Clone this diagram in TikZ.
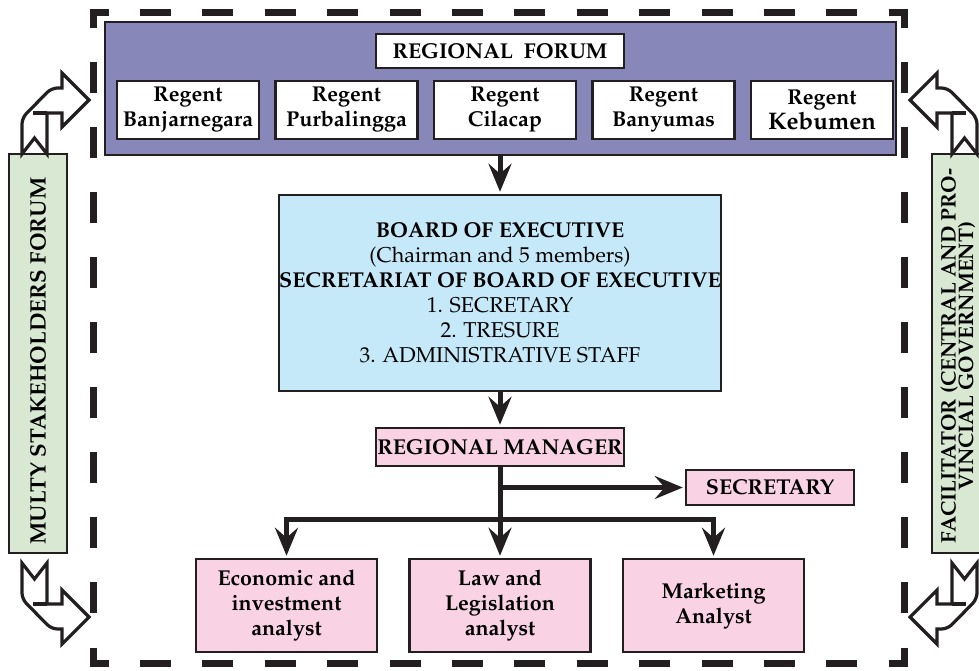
\documentclass[tikz,border=0pt]{standalone}
\usepackage[T1]{fontenc}
\usepackage{mathpazo}
\usetikzlibrary{arrows.meta,positioning}

\definecolor{forumpurple}{HTML}{8787B9}
\definecolor{boardblue}{HTML}{C6E9F9}
\definecolor{staffpink}{HTML}{F9D2E4}
\definecolor{sidegreen}{HTML}{D8E8D2}
\definecolor{inkgray}{HTML}{231F20}

\tikzset{
	frame/.style = {draw=inkgray, line width=7pt, dash pattern=on 31pt off #1, dash phase=12pt},
	box/.style = {draw=inkgray, line width=2.5pt, align=center, inner sep=0pt,
		font=\fontsize{21.5}{25}\selectfont\bfseries},
	forumbox/.style = {box, fill=forumpurple, minimum width=791pt, minimum height=133pt},
	regent/.style = {box, fill=white, minimum width=142pt, minimum height=58pt},
	boardbox/.style = {box, fill=boardblue, minimum width=426pt, minimum height=196pt},
	staff/.style = {box, fill=staffpink},
	sidebox/.style = {box, fill=sidegreen, rotate=90, minimum width=399pt, minimum height=58pt},
	link/.style = {draw=inkgray, line width=5pt, shorten >=2pt,
		-{Stealth[length=28pt,width=23pt,inset=10pt]}},
	bus/.style = {draw=inkgray, line width=5pt},
	turnline/.style = {draw=inkgray, fill=white, line width=3.2pt, line join=miter},
	turnarrow/.pic = {
		\draw[turnline, rounded corners=6pt] (-12.5,0) -- (-12.5,-36) -- (17,-66)
			[sharp corners] -- (27.5,-66) -- (27.5,-81) -- (54.5,-54) -- (27.5,-27)
			-- (27.5,-41) -- (12.5,-41) -- (12.5,0) -- (0,-16) -- cycle;
		\draw[turnline] (-1.5,-41) -- (12.5,-41);
	}
}

\begin{document}
\begin{tikzpicture}[x=1pt, y=-1pt]
	\useasboundingbox (0,0) rectangle (979,670);

	% dashed frame
	\draw[frame=31.4pt] (89.5,12) -- (907.5,12);
	\draw[frame=31.4pt] (89.5,663) -- (907.5,663);
	\draw[frame=34.1pt] (93,8.5) -- (93,666.5);
	\draw[frame=34.1pt] (904,8.5) -- (904,666.5);

	% regional forum
	\node[forumbox] (forum) at (500.5,88.5) {};
	\node[regent, minimum width=248pt, minimum height=34pt] (rf) at (500,51) {REGIONAL~~FORUM};
	\node[regent] (r1) at (188,110) {Regent\\Banjarnegara};
	\node[regent, right=14pt of r1] (r2) {Regent\\Purbalingga};
	\node[regent, right=14pt of r2] (r3) {Regent\\Cilacap};
	\node[regent, right=14pt of r3] (r4) {Regent\\Banyumas};
	\node[regent, right=14pt of r4] (r5) {Regent\\\fontsize{24}{25}\selectfont Kebumen};

	% executive and staff
	\node[boardbox] (board) at (500,293) {BOARD OF EXECUTIVE\\
		\mdseries (Chairman and 5 members)\\
		SECRETARIAT OF BOARD OF EXECUTIVE\\
		\mdseries 1. SECRETARY\\
		\mdseries 2. TRESURE\\
		\mdseries 3. ADMINISTRATIVE STAFF};
	\node[staff, minimum width=248pt, minimum height=38pt] (manager) at (500,447) {REGIONAL MANAGER};
	\node[staff, minimum width=168pt, minimum height=35pt] (secretary) at (770,487.5) {SECRETARY};
	\node[staff, minimum width=181pt, minimum height=93pt] (econ) at (286.5,605.5) {Economic and\\investment\\analyst};
	\node[staff, minimum width=181pt, minimum height=93pt] (law) at (500,605.5) {Law and\\Legislation\\analyst};
	\node[staff, minimum width=181pt, minimum height=93pt] (market) at (713.5,605.5) {Marketing\\Analyst};

	% side forums
	\node[sidebox] (msf) at (38,353.5) {};
	\node[rotate=90, inner sep=0pt, font=\fontsize{22.3}{25}\selectfont\bfseries]
		(msftext) at (38,361) {MULTY STAKEHOLDERS FORUM};
	\node[sidebox] (fac) at (961,353.5) {};
	\node[rotate=90, align=center, inner sep=0pt, font=\fontsize{21}{17.5}\selectfont\bfseries]
		(factext) at (958,356) {FACILITATOR (CENTRAL AND PRO-\\VINCIAL GOVERNMENT)};
	\pic at (34.5,154) {turnarrow};
	\pic[yscale=-1] at (34.5,563) {turnarrow};
	\pic[xscale=-1] at (964.5,154) {turnarrow};
	\pic[xscale=-1, yscale=-1] at (964.5,563) {turnarrow};

	% connectors
	\coordinate (split) at (500,519);
	\draw[link] (board.north |- forum.south) -- (board.north);
	\draw[link] (board.south) -- (manager.north);
	\draw[bus] (manager.south) -- (split);
	\draw[link] (manager.south |- secretary.west) -- (secretary.west);
	\draw[link] (split) -- (law.north);
	\draw[link] (split) -| (econ.north);
	\draw[link] (split) -| (market.north);
\end{tikzpicture}
\end{document}
